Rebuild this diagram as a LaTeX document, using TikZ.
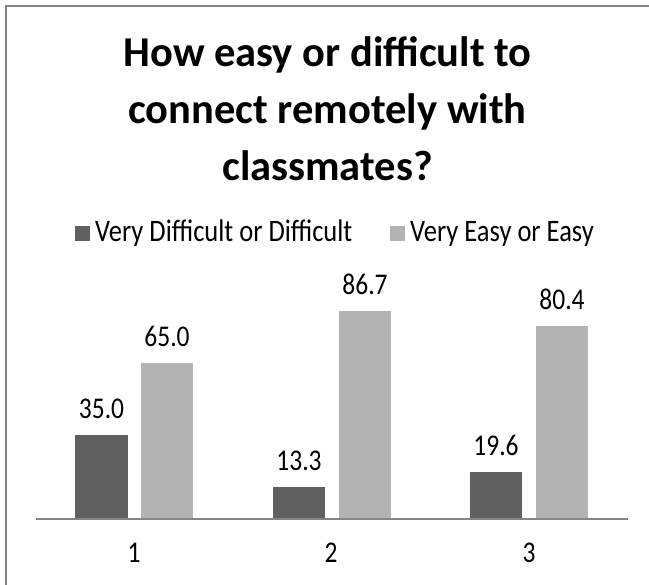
\documentclass[tikz,border=0pt]{standalone}
\usepackage{graphicx}
\usepackage{fontspec}
\setmainfont{Carlito}
\definecolor{darkbar}{RGB}{96,96,96}
\definecolor{lightbar}{RGB}{179,179,179}
\definecolor{axisgray}{RGB}{134,134,134}
\newcommand{\tallt}[1]{\scalebox{1}[1.18]{#1}}
\begin{document}
\begin{tikzpicture}[x=1pt,y=-1pt,
  titletext/.style={font=\fontsize{42.5}{50}\selectfont\bfseries, anchor=base, inner sep=0pt},
  legtext/.style={font=\fontsize{26.5}{30}\selectfont, anchor=base west, inner sep=0pt},
  vallabel/.style={font=\fontsize{25.5}{30}\selectfont, anchor=base, inner sep=0pt},
  catlabel/.style={font=\fontsize{25.5}{30}\selectfont, anchor=base, inner sep=0pt},
  darkfill/.style={fill=darkbar},
  lightfill/.style={fill=lightbar},
  frameline/.style={draw=axisgray, line width=1.5pt}]
\useasboundingbox (0,0) rectangle (649,585);
\fill[white] (0,0) rectangle (649,585);
% frame (top and left edges visible)
\draw[frameline] (5.75,585) -- (5.75,6) -- (649,6);
% title
\node[titletext] (t1) at (327.5,67) {How easy or difficult to};
\node[titletext] (t2) at (327.5,124) {connect remotely with};
\node[titletext] (t3) at (327.5,181) {classmates?};
% legend
\fill[darkfill] (75,226) rectangle (90,241);
\node[legtext] (l1) at (95,242) {\tallt{Very Difficult or Difficult}};
\fill[lightfill] (390,226) rectangle (405,241);
\node[legtext] (l2) at (410,242) {\tallt{Very Easy or Easy}};
% bars
\fill[darkfill] (75,519) rectangle (128,435);
\fill[lightfill] (141,519) rectangle (193,363);
\fill[darkfill] (273,519) rectangle (325,487);
\fill[lightfill] (339,519) rectangle (391,311);
\fill[darkfill] (470,519) rectangle (522,472);
\fill[lightfill] (536,519) rectangle (588,326);
% value labels
\node[vallabel] (v1a) at (101.5,419) {\tallt{35.0}};
\node[vallabel] (v1b) at (167,347) {\tallt{65.0}};
\node[vallabel] (v2a) at (299,471) {\tallt{13.3}};
\node[vallabel] (v2b) at (365,295) {\tallt{86.7}};
\node[vallabel] (v3a) at (496,456) {\tallt{19.6}};
\node[vallabel] (v3b) at (562,310) {\tallt{80.4}};
% axis
\draw[frameline] (36,519) -- (628,519);
% categories
\node[catlabel] (c1) at (134,563) {\tallt{1}};
\node[catlabel] (c2) at (331,563) {\tallt{2}};
\node[catlabel] (c3) at (529,563) {\tallt{3}};
\end{tikzpicture}
\end{document}
